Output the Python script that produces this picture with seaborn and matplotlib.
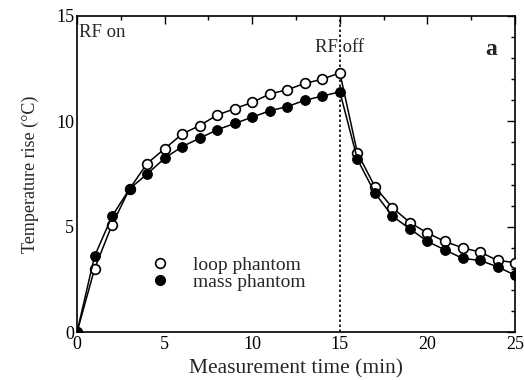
import numpy as np
import pandas as pd
import matplotlib.pyplot as plt
import seaborn as sns
from matplotlib.ticker import MultipleLocator
from matplotlib.lines import Line2D

# --- Data ---
time_min = list(range(0, 26))
loop_phantom = [0.0, 3.0, 5.1, 6.8, 8.0, 8.7, 9.4, 9.8, 10.3, 10.6, 10.9, 11.3, 11.5,
                11.8, 12.0, 12.3, 8.5, 6.9, 5.9, 5.2, 4.7, 4.3, 4.0, 3.8, 3.4, 3.3]
mass_phantom = [0.0, 3.6, 5.5, 6.8, 7.5, 8.25, 8.8, 9.2, 9.6, 9.9, 10.2, 10.5, 10.7,
                11.0, 11.2, 11.4, 8.2, 6.6, 5.5, 4.9, 4.3, 3.9, 3.5, 3.4, 3.1, 2.7]
rf_off_time = 15

df = pd.DataFrame({"time": time_min, "loop": loop_phantom, "mass": mass_phantom})

sns.set_theme(style="white")
plt.rcParams["font.family"] = ["Liberation Serif", "DejaVu Serif"]

fig = plt.figure(figsize=(5.24, 3.8), dpi=100)
ax = fig.add_axes([0.147, 0.126, 0.836, 0.832])

sns.lineplot(data=df, x="time", y="loop", ax=ax, color="black", lw=1.1,
             marker="o", markersize=7, markerfacecolor="white",
             markeredgecolor="black", markeredgewidth=1.2, zorder=3)
sns.lineplot(data=df, x="time", y="mass", ax=ax, color="black", lw=1.1,
             marker="o", markersize=7, markerfacecolor="black",
             markeredgecolor="black", zorder=4)

# RF switched off
ax.axvline(rf_off_time, color="black", ls=(0, (1.5, 1.5)), lw=1.2, zorder=1)

ax.set_xlim(0, 25)
ax.set_ylim(0, 15)
ax.xaxis.set_major_locator(MultipleLocator(5))
ax.xaxis.set_minor_locator(MultipleLocator(2.5))
ax.yaxis.set_major_locator(MultipleLocator(5))
ax.yaxis.set_minor_locator(MultipleLocator(1))
ax.tick_params(which="both", direction="in", top=True, right=True,
               colors="black", labelsize=13, width=1)
ax.tick_params(which="major", length=6, pad=2)
ax.tick_params(axis="x", which="major", pad=3)
ax.tick_params(which="minor", length=3)
for s in ax.spines.values():
    s.set_color("black")
    s.set_linewidth(1.2)

ax.set_xlabel("Measurement time (min)", fontsize=15.5, labelpad=4)
ax.set_ylabel("Temperature rise (\u00b0C)", fontsize=13, labelpad=12)

ax.text(0.1, 14.0, "RF on", fontsize=13.5)
ax.text(15, 13.3, "RF off", fontsize=13.5, ha="center")
ax.text(23.3, 13.15, "a", fontsize=17, fontweight="bold")

handles = [
    Line2D([], [], ls="none", marker="o", markersize=7, markerfacecolor="white",
           markeredgecolor="black", markeredgewidth=1.2),
    Line2D([], [], ls="none", marker="o", markersize=7, markerfacecolor="black",
           markeredgecolor="black"),
]
ax.legend(handles, ["loop phantom", "mass phantom"], loc="lower left",
          bbox_to_anchor=(0.11, 0.08), frameon=False, fontsize=14,
          handletextpad=0.7, labelspacing=0.0, borderpad=0.3)

fig.savefig("out.png", dpi=100)
